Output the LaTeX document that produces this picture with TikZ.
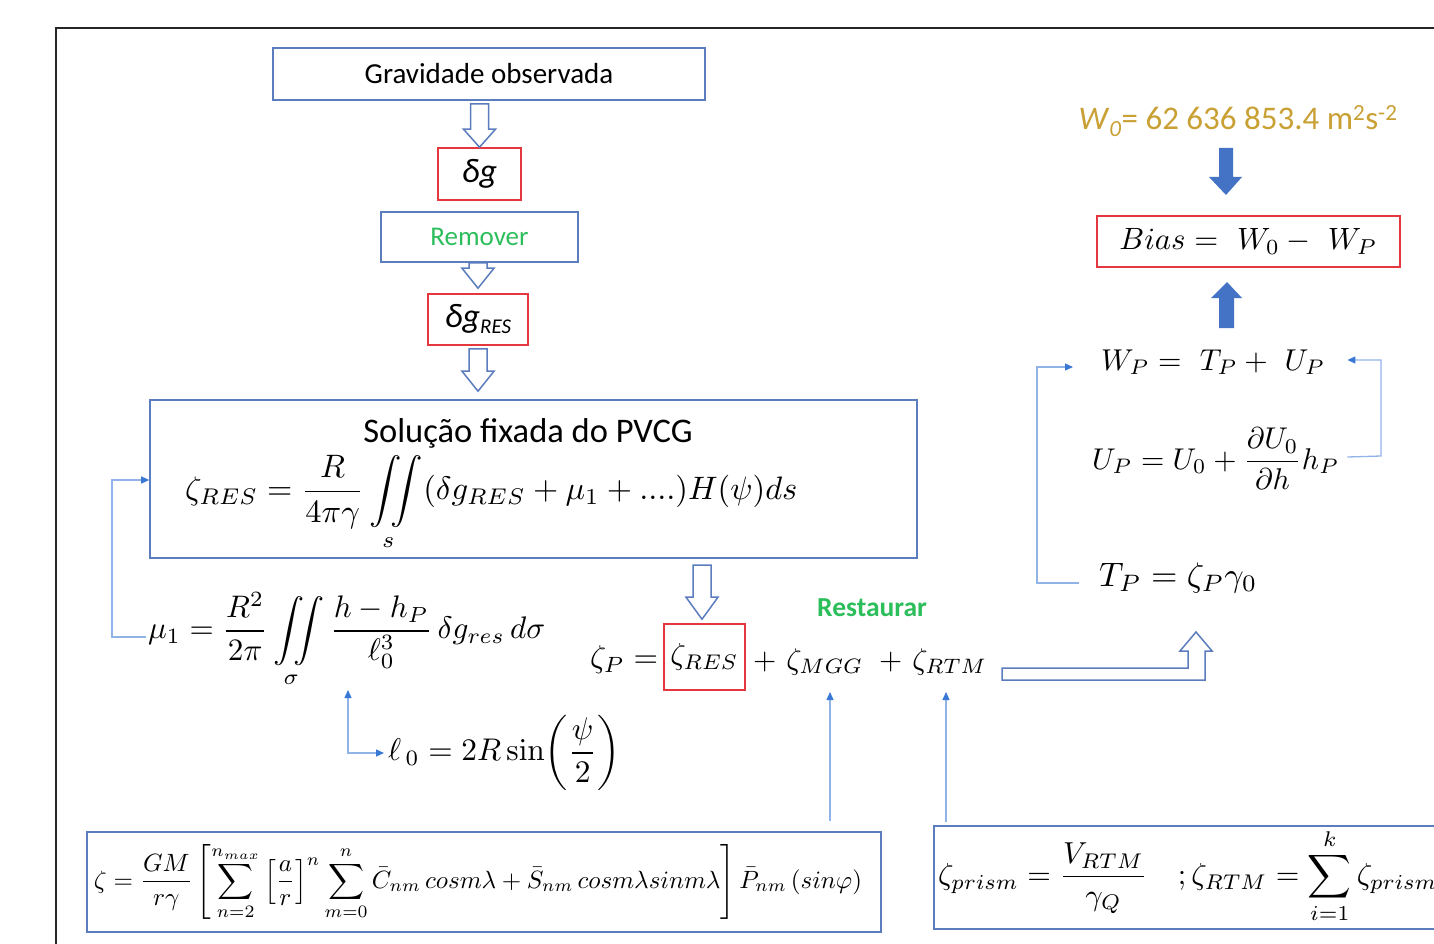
\documentclass[tikz,border=0pt]{standalone}
\usepackage{amsmath}
\usepackage{graphicx}
\usepackage[no-math]{fontspec}
\newfontfamily\calib{Carlito}
\usetikzlibrary{calc,arrows.meta}
\definecolor{boxblue}{HTML}{5B7CBD}
\definecolor{boxred}{HTML}{E5383E}
\definecolor{linkblue}{HTML}{92B3E8}
\definecolor{tipblue}{HTML}{3A78D6}
\definecolor{fillblue}{HTML}{4472C4}
\definecolor{grn}{HTML}{2DBE5C}
\definecolor{gold}{HTML}{C9A033}
\newcommand\hollowdown[3]{% #1 start coordinate name, #2 tip coordinate name, #3 head length
  \draw[hollow] ($(#1 -| #2)+(-9,0)$) -- ($(#1 -| #2)+(9,0)$) -- ($(#2)+(9,-#3)$) -- ($(#2)+(16,-#3)$) -- (#2)
    -- ($(#2)+(-16,-#3)$) -- ($(#2)+(-9,-#3)$) -- cycle;}
\begin{document}
\begin{tikzpicture}[x=1pt,y=-1pt,
  bbox/.style={draw=boxblue,line width=1.6pt,fill=white,inner sep=0pt},
  rbox/.style={draw=boxred,line width=1.6pt,fill=white,inner sep=0pt},
  eq/.style={inner sep=0pt},
  ltip/.tip={Triangle[length=8pt,width=7pt,color=tipblue]},
  link/.style={draw=linkblue,line width=1.3pt},
  hollow/.style={draw=boxblue,line width=1.5pt,fill=white,line join=miter},
  solid/.style={fill=fillblue,draw=none}]
\useasboundingbox (0,0) rectangle (1434,944);
\fill[white] (0,0) rectangle (1434,944);
\clip (0,0) rectangle (1434,944);
\draw[line width=2.2pt, black!85] (56,946) -- (56,28) -- (1436,28);

% left column
\node[bbox,minimum width=432pt,minimum height=52pt] (grav) at (489,74)
  {\calib\fontsize{29}{33}\selectfont Gravidade observada};
\node[rbox,minimum width=83pt,minimum height=52pt] (dg) at (479.5,174)
  {\calib\itshape\fontsize{34}{40}\selectfont δg};
\node[bbox,minimum width=197pt,minimum height=50pt] (rem) at (479.5,237)
  {\calib\color{grn}\fontsize{27}{31}\selectfont Remover};
\node[rbox,minimum width=100pt,minimum height=51pt] (dgr) at (478,319.5)
  {\calib\itshape\fontsize{34}{40}\selectfont δg\raisebox{-6pt}{\fontsize{21}{24}\selectfont RES}};
\node[bbox,minimum width=767pt,minimum height=158pt] (pvcg) at (533.5,479) {};
\node[eq] (pvcgT) at (528,433) {\calib\fontsize{34.5}{40}\selectfont Solução fixada do PVCG};
\node[eq,anchor=west] (zresf) at (185,503)
  {\resizebox{612pt}{!}{$\displaystyle \zeta_{RES}=\frac{R}{4\pi\gamma}\iint\limits_{s}(\delta g_{RES}+\mu_1+....)H(\psi)ds$}};

\coordinate (h1s) at ($(grav.south)+(0,3)$);
\coordinate (h1t) at (dg.north);
\coordinate (h2s) at (rem.south);
\coordinate (h2t) at ($(dgr.north)+(0,-5)$);
\coordinate (h3s) at ($(dgr.south)+(0,3)$);
\coordinate (h3t) at ($(pvcg.north -| dgr.north)+(0,-8)$);
\hollowdown{h1s}{h1t}{18}
\hollowdown{h2s}{h2t}{20}
\hollowdown{h3s}{h3t}{20}

% mu1 and l0
\node[eq,anchor=west] (mu1) at (148,640)
  {\resizebox{397pt}{!}{$\displaystyle \mu_1=\frac{R^2}{2\pi}\iint\limits_{\sigma}\frac{h-h_P}{\ell_0^3}\,\delta g_{res}\,d\sigma$}};
\node[eq,anchor=west] (ell0) at (388,753)
  {\resizebox{232pt}{!}{$\displaystyle \ell_{\,0}=2R\sin\!\left(\frac{\psi}{2}\right)$}};
\coordinate (lk1) at (112,637);
\coordinate (mu1in) at (348,690);
\draw[link,-ltip] ($(mu1.west)+(-2,-3)$) -- (lk1) |- ($(pvcg.west)+(0,1)$);
\draw[link,ltip-ltip] (mu1in) |- ($(ell0.west)+(-4,0)$);

% zeta_P line
\node[eq,anchor=west] (zp) at (590,660) {\resizebox{68pt}{!}{$\zeta_P=$}};
\node[rbox,minimum width=81pt,minimum height=66pt] (zres) at (704.5,657)
  {\resizebox{68pt}{!}{$\zeta_{RES}$}};
\node[eq,anchor=west] (zmgg) at (753,662) {\resizebox{110pt}{!}{$+\ \zeta_{MGG}$}};
\node[eq,anchor=west] (zrtm) at (879,662) {\resizebox{108pt}{!}{$+\ \zeta_{RTM}$}};
\node[eq] (rest) at (872,608) {\calib\bfseries\color{grn}\fontsize{27.5}{32}\selectfont Restaurar};
\coordinate (h4s) at (702,565);
\coordinate (h4t) at ($(zres.north -| h4s)+(0,-4)$);
\hollowdown{h4s}{h4t}{22}
\coordinate (mggin) at (830,692);
\coordinate (rtmin) at (946,692);

% L-shaped hollow arrow
\draw[hollow] (1002,668) -- (1188,668) -- (1188,651) -- (1180,651) -- (1196,632) -- (1212,651)
  -- (1205,651) -- (1205,680) -- (1002,680) -- cycle;

% bottom boxes
\node[draw=boxblue,line width=2.4pt,fill=white,minimum width=794pt,minimum height=100pt,inner sep=0pt] (bl) at (484,882) {};
\node[eq] (blf) at (478,882)
  {\resizebox{768pt}{!}{$\displaystyle \zeta=\frac{GM}{r\gamma}\left[\sum_{n=2}^{n_{max}}\left[\frac{a}{r}\right]^n\sum_{m=0}^{n}\bar{C}_{nm}\,cosm\lambda+\bar{S}_{nm}\,cosm\lambda sinm\lambda\right]\bar{P}_{nm}\left(sin\varphi\right)$}};
\node[draw=boxblue,line width=2.4pt,fill=white,minimum width=560pt,minimum height=103pt,inner sep=0pt,anchor=north west] (br) at (933,825) {};
\node[eq,anchor=west] (brf) at (938,876)
  {\resizebox{512pt}{!}{$\displaystyle \zeta_{prism}=\frac{V_{RTM}}{\gamma_Q}\quad;\zeta_{RTM}=\sum_{i=1}^{k}\zeta_{prism\,i}$}};
\draw[link,-ltip] ($(bl.north -| mggin)+(0,-10)$) -- (mggin);
\draw[link,-ltip] ($(br.north -| rtmin)+(0,-3)$) -- (rtmin);

% right column
\node[eq] (w0) at (1238,121)
  {\calib\color{gold}\fontsize{33}{38}\selectfont \textit{W}\textsubscript{\textit{0}}= 62 636 853.4 m\textsuperscript{2}s\textsuperscript{-2}};
\node[rbox,minimum width=303pt,minimum height=51pt] (bias) at (1248.5,241.5)
  {\resizebox{258pt}{!}{$Bias=\ W_0-\ W_P$}};
\draw[solid] (1219,148) -- (1233,148) -- (1233,177) -- (1242,177) -- (1226,195) -- (1209,177) -- (1219,177) -- cycle;
\draw[solid] (1219,328) -- (1234,328) -- (1234,298) -- (1242,298) -- (1227,282) -- (1211,298) -- (1219,298) -- cycle;
\node[eq,anchor=west] (wp) at (1101,362) {\resizebox{224pt}{!}{$W_P=\ T_P+\ U_P$}};
\node[eq,anchor=west] (up) at (1092,459)
  {\resizebox{247pt}{!}{$\displaystyle U_P=U_0+\frac{\partial U_0}{\partial h}h_P$}};
\node[eq,anchor=west] (tp) at (1099,578) {\resizebox{158pt}{!}{$T_P=\zeta_P\gamma_0$}};
\coordinate (lk2) at (1037,583);
\coordinate (lk3) at (1381,456);
\draw[link,-ltip] ($(tp.west)+(-20,5)$) -- (lk2) |- ($(wp.west)+(-28,5)$);
\draw[link,-ltip] ($(up.east)+(8,-2)$) -- (lk3) |- ($(wp.east)+(22,-2)$);
\end{tikzpicture}
\end{document}
